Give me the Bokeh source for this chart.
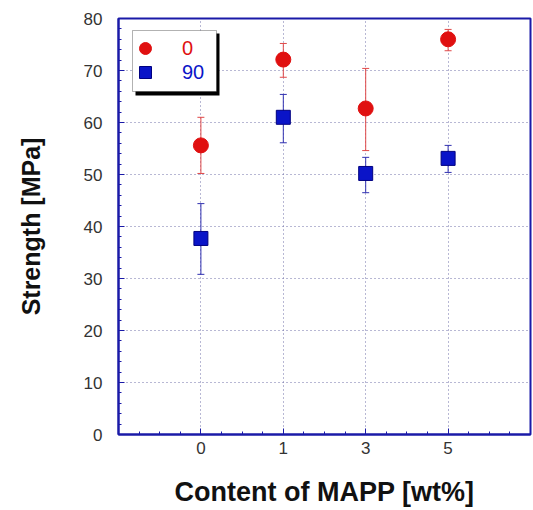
from bokeh.plotting import figure
from bokeh.models import (Range1d, FixedTicker, ColumnDataSource, Whisker, TeeHead,
                          Legend, LegendItem, BoxAnnotation)
from bokeh.embed import file_html
from bokeh.resources import INLINE

# ---- data ----
categories = ["0", "1", "3", "5"]
positions = [1, 2, 3, 4]
s0_mean = [55.6, 72.1, 62.7, 76.0]
s0_upper = [61.0, 75.2, 70.4, 77.9]
s0_lower = [50.2, 68.7, 54.6, 73.8]
s90_mean = [37.7, 61.0, 50.2, 53.1]
s90_upper = [44.4, 65.4, 53.3, 55.6]
s90_lower = [30.8, 56.1, 46.5, 50.4]
yticks = [0, 10, 20, 30, 40, 50, 60, 70, 80]

FONT = "Liberation Sans"
AXC = "#1a1aa8"
RED = "#e01010"
BLUE = "#0a14c8"

p = figure(width=533, height=510, output_backend="svg", toolbar_location=None,
           x_range=Range1d(0, 5), y_range=Range1d(0, 80),
           min_border_left=118, min_border_right=3, min_border_top=18, min_border_bottom=76)
p.outline_line_color = AXC
p.outline_line_width = 2
p.background_fill_color = "white"
p.border_fill_color = "white"

xax = p.xaxis[0]
xax.ticker = FixedTicker(ticks=positions, minor_ticks=[0.25*i for i in range(21)])
xax.major_label_overrides = {pos: c for pos, c in zip(positions, categories)}
yax = p.yaxis[0]
yax.ticker = FixedTicker(ticks=yticks, minor_ticks=list(range(0, 81, 2)))

for ax in (xax, yax):
    ax.axis_line_color = AXC
    ax.axis_line_width = 2
    ax.major_tick_in = 6
    ax.major_tick_out = 0
    ax.minor_tick_in = 3
    ax.minor_tick_out = 0
    ax.major_tick_line_color = AXC
    ax.minor_tick_line_color = AXC
    ax.major_label_text_font = FONT
    ax.major_label_text_font_size = "17px"
    ax.major_label_text_color = "#333333"
    ax.axis_label_text_font = FONT
    ax.axis_label_text_font_style = "bold"
    ax.axis_label_text_color = "#111111"

xax.axis_label = "Content of MAPP [wt%]"
xax.axis_label_text_font_size = "27px"
xax.major_label_standoff = 7
xax.axis_label_standoff = 20
yax.axis_label = "Strength [MPa]"
yax.axis_label_text_font_size = "25px"
yax.major_label_standoff = 16
yax.axis_label_standoff = 36

p.xgrid.ticker = FixedTicker(ticks=positions)
p.ygrid.ticker = FixedTicker(ticks=yticks[1:-1])
for g in (p.xgrid, p.ygrid):
    g.grid_line_color = "#7070a8"
    g.grid_line_dash = "1 3"
    g.grid_line_width = 1

src0 = ColumnDataSource(dict(x=positions, y=s0_mean, up=s0_upper, lo=s0_lower))
src90 = ColumnDataSource(dict(x=positions, y=s90_mean, up=s90_upper, lo=s90_lower))

w0 = Whisker(source=src0, base="x", upper="up", lower="lo", line_color="#e04848", line_width=1,
             upper_head=TeeHead(size=7, line_color="#e04848"), lower_head=TeeHead(size=7, line_color="#e04848"))
w90 = Whisker(source=src90, base="x", upper="up", lower="lo", line_color="#3030b0", line_width=1,
              upper_head=TeeHead(size=7, line_color="#3030b0"), lower_head=TeeHead(size=7, line_color="#3030b0"))
p.add_layout(w0)
p.add_layout(w90)

r0 = p.scatter("x", "y", source=src0, marker="circle", size=15, fill_color=RED, line_color=RED)
r90 = p.scatter("x", "y", source=src90, marker="square", size=14, fill_color=BLUE, line_color="#000080")

# legend box with shadow (screen units relative to frame, y measured up from frame bottom)
shadow = BoxAnnotation(left=17, right=101, top=401, bottom=339,
                       left_units="screen", right_units="screen", top_units="screen", bottom_units="screen",
                       fill_color="black", fill_alpha=1, line_alpha=0)
box = BoxAnnotation(left=14, right=98, top=404, bottom=343,
                    left_units="screen", right_units="screen", top_units="screen", bottom_units="screen",
                    fill_color="white", fill_alpha=1, line_color="black", line_width=1)
p.add_layout(shadow)
p.add_layout(box)

leg0 = Legend(items=[LegendItem(label="0", renderers=[r0])], location=(10, 369),
              label_text_color=RED, label_text_font=FONT, label_text_font_size="20px",
              border_line_alpha=0, background_fill_alpha=0, glyph_width=30, glyph_height=30,
              padding=2, margin=0, label_standoff=22)
leg90 = Legend(items=[LegendItem(label="90", renderers=[r90])], location=(10, 345),
               label_text_color=BLUE, label_text_font=FONT, label_text_font_size="20px",
               border_line_alpha=0, background_fill_alpha=0, glyph_width=30, glyph_height=30,
               padding=2, margin=0, label_standoff=22)
p.add_layout(leg0)
p.add_layout(leg90)

open("out.html", "w").write(file_html(p, INLINE))
